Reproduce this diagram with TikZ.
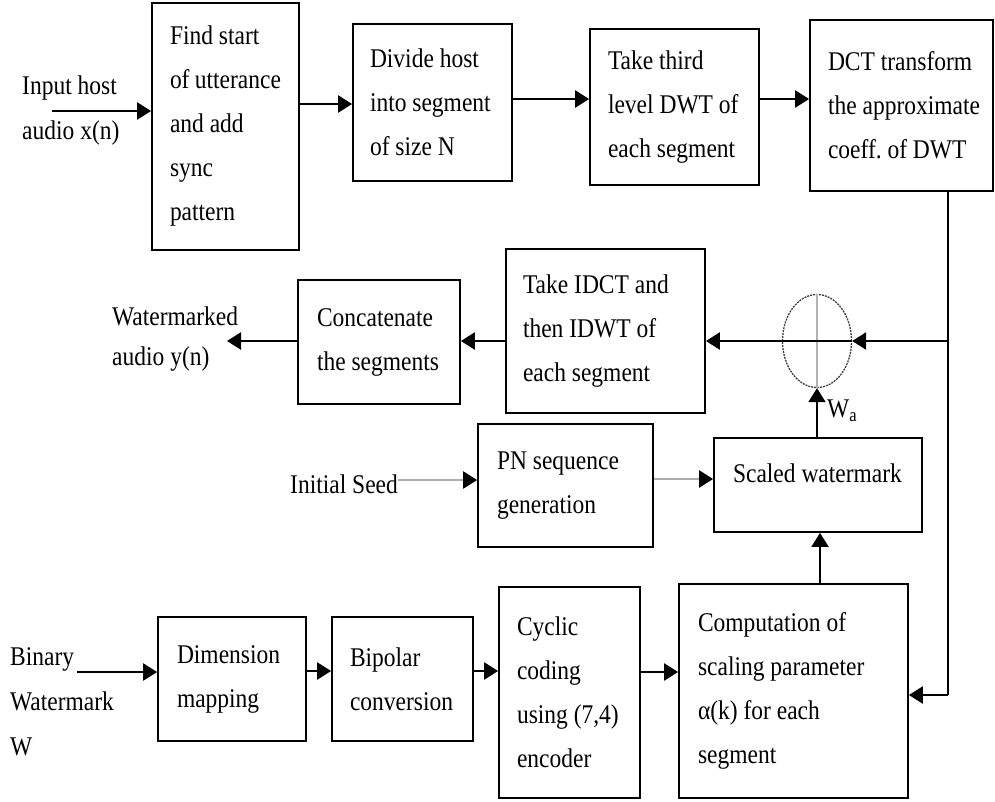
\documentclass[tikz,border=0pt]{standalone}
\usepackage{fontspec}
\setmainfont{Liberation Serif}[FakeStretch=0.87]
\usetikzlibrary{arrows.meta,shapes.geometric}
\begin{document}
\begin{tikzpicture}[x=1pt,y=-1pt,
  box/.style={draw, line width=1.8pt, rectangle, inner sep=0pt, align=flush left,
    font=\fontsize{27}{44}\selectfont},
  arr/.style={line width=2.4pt, -{Triangle[length=14pt,width=17pt]}},
  garr/.style={line width=2.4pt, draw=gray!65, -{Triangle[length=14pt,width=17pt,color=black,fill=black]}},
  plainline/.style={line width=2pt},
  lbl/.style={inner sep=0pt, align=flush left, anchor=west, font=\fontsize{27}{45}\selectfont}]
\useasboundingbox (0,0) rectangle (995,801);

% boxes
\node[box, minimum width=147pt, minimum height=247pt, text width=111pt] (find) at (225.5,126.5)
  {Find~start\\of~utterance\\and~add\\sync\\pattern};
\node[box, minimum width=159pt, minimum height=157pt, text width=125pt] (divide) at (432.5,102.5)
  {Divide~host\\into~segment\\of~size~N};
\node[box, minimum width=169pt, minimum height=156pt, text width=133pt] (third) at (674.5,107)
  {Take~third\\level~DWT~of\\each~segment};
\node[box, minimum width=183pt, minimum height=171pt, text width=147pt] (dct) at (901.5,105.5)
  {DCT~transform\\\mbox{the~approximate}\\coeff.~of~DWT};
\node[box, minimum width=199pt, minimum height=164pt, text width=165pt] (idct) at (605.5,331)
  {Take~IDCT~and\\then~IDWT~of\\each~segment};
\node[box, minimum width=162pt, minimum height=124pt, text width=124pt] (concat) at (379,342)
  {Concatenate\\the~segments};
\node[box, minimum width=175pt, minimum height=123pt, text width=137pt] (pn) at (565.5,485.5)
  {PN~sequence\\generation};
\node[box, minimum width=208pt, minimum height=94pt, text width=170pt, text height=19pt, text depth=24pt] (scaled) at (818,485)
  {Scaled~watermark};
\node[box, minimum width=148pt, minimum height=124pt, text width=110pt] (dim) at (232,679)
  {Dimension\\mapping};
\node[box, minimum width=141pt, minimum height=124pt, text width=105pt] (bip) at (402.5,679)
  {Bipolar\\conversion};
\node[box, minimum width=141pt, minimum height=211pt, text width=105pt] (cyc) at (569.5,692.5)
  {Cyclic\\coding\\using~(7,4)\\encoder};
\node[box, minimum width=229pt, minimum height=214pt, text width=191pt] (comp) at (793.5,691)
  {Computation~of\\scaling~parameter\\α(k)~for~each\\segment};

% summing junction
\node[ellipse, draw=black!75, line width=1.3pt, dash pattern=on 2pt off 1pt,
  minimum width=69pt, minimum height=93pt, inner sep=0pt] (sum) at (817,341) {};
\draw[gray!60, line width=1.6pt] (sum.north) -- (sum.south);
\draw[line width=2pt] (sum.west) -- (sum.east);

% labels
\node[lbl] (inlbl) at (22,111) {Input~host\\audio~x(n)};
\node[lbl, font=\fontsize{27}{40}\selectfont] (outlbl) at (112,339) {Watermarked\\audio~y(n)};
\node[lbl] (seed) at (290,484) {Initial~Seed};
\node[lbl] (bin) at (10,702) {Binary\\Watermark\\W};
\node[lbl, font=\fontsize{27}{30}\selectfont] (wa) at (827,411) {W\textsubscript{a}};

% coordinates
\coordinate (in1) at (52,111);
\coordinate (out1) at (227,341);
\coordinate (fb) at (948,341);
\coordinate (fc) at (948,695);
\coordinate (bin1) at (77,672);

% connectors
\draw[arr] (in1) -- (in1 -| find.west);
\draw[arr] (find.east |- 0,104) -- (divide.west |- 0,104);
\draw[arr] (divide.east |- 0,99) -- (third.west |- 0,99);
\draw[arr] (third.east |- 0,99) -- (dct.west |- 0,99);
\draw[plainline] (dct.south -| fb) -- (fc);
\draw[arr] (fc) -- (fc -| comp.east);
\draw[arr] (fb) -- (sum.east);
\draw[arr] (sum.west) -- (idct.east |- sum.west);
\draw[arr] (idct.west |- 0,341) -- (concat.east |- 0,341);
\draw[arr] (concat.west |- out1) -- (out1);
\draw[garr] (seed.east |- 0,480) -- (pn.west |- 0,480);
\draw[garr] (pn.east |- 0,479) -- (scaled.west |- 0,479);
\draw[plainline, -{Triangle[length=14pt,width=17pt]}] (scaled.north -| sum.south) -- (sum.south);
\draw[plainline, -{Triangle[length=14pt,width=17pt]}] (comp.north -| 820,0) -- (scaled.south -| 820,0);
\draw[arr] (bin1) -- (bin1 -| dim.west);
\draw[arr] (dim.east |- 0,671) -- (bip.west |- 0,671);
\draw[arr] (bip.east |- 0,671) -- (cyc.west |- 0,671);
\draw[arr] (cyc.east |- 0,672) -- (comp.west |- 0,672);
\end{tikzpicture}
\end{document}
